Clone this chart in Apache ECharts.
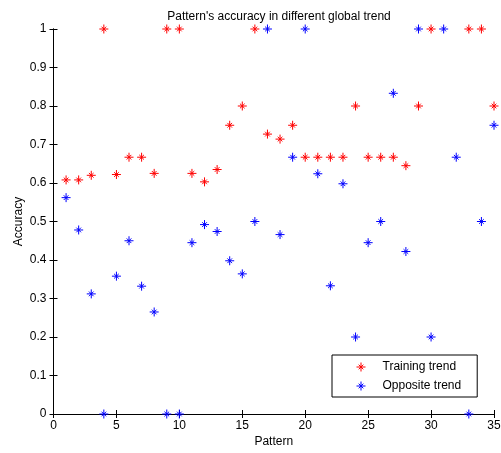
<!DOCTYPE html>
<html>
<head>
<meta charset="utf-8">
<script src="https://cdn.jsdelivr.net/npm/echarts@6/dist/echarts.min.js"></script>
<style>
  html,body{margin:0;padding:0;background:#fff;}
  #ch{width:501px;height:453px;}
</style>
</head>
<body>
<div id="ch"></div>
<script>
/* Pattern's accuracy — training trend vs opposite trend */
const PATTERNS = [...Array(35).keys()].map(i=>i+1);
// 31 and 32 are not visible in the picture (under the blue marks)
const TRAINING = [0.608,0.608,0.62,1,0.622,0.667,0.667,0.625,1,1,
                  0.625,0.603,0.635,0.75,0.8,1,0.727,0.714,0.75,0.667,
                  0.667,0.667,0.667,0.8,0.667,0.667,0.667,0.645,0.8,1,
                  null,null,1,1,0.8];
const OPPOSITE = [0.562,0.478,0.312,0,0.358,0.45,0.332,0.265,0,0,
                  0.445,0.492,0.474,0.398,0.364,0.5,1,0.466,0.667,1,
                  0.624,0.333,0.598,0.2,0.445,0.5,0.833,0.422,1,0.2,
                  1,0.667,0,0.5,0.75];

const FONT = "'Liberation Sans', Arial, sans-serif";
const STAR = "path://M0,-5L0,5M-5,0L5,0M-2.6,-2.6L2.6,2.6M-2.6,2.6L2.6,-2.6";
const RED = "#ff0000", BLUE = "#0000ff";
const pts = arr => PATTERNS.map((p,i)=>[p,arr[i]]).filter(d=>d[1]!==null);
const starStyle = c => ({color:"none",borderColor:c,borderWidth:1,opacity:1});

const chart = echarts.init(document.getElementById("ch"));
const tickIn = {show:true,inside:true,length:4,lineStyle:{color:"#000"}};
const line = {show:true,lineStyle:{color:"#000",width:1}};
const lbl = {color:"#000",fontFamily:FONT,fontSize:12};

chart.setOption({
  animation:false,
  textStyle:{fontFamily:FONT},
  title:{text:"Pattern's accuracy in different global trend",left:274,textAlign:"center",top:6,
    textStyle:{fontFamily:FONT,fontSize:12,fontWeight:"normal",color:"#000"}},
  grid:{left:53.5,right:7,top:29,bottom:39,outerBoundsMode:"none",containLabel:false},
  legend:{
    orient:"vertical",left:332,top:355,
    padding:[5,16,4,22],itemGap:5,itemWidth:9,itemHeight:9,
    borderColor:"#000",borderWidth:1,backgroundColor:"#fff",
    textStyle:{fontFamily:FONT,fontSize:12,color:"#000",padding:[0,0,0,12]},
    data:[
      {name:"Training trend",icon:STAR,itemStyle:starStyle(RED)},
      {name:"Opposite trend",icon:STAR,itemStyle:starStyle(BLUE)}
    ]
  },
  xAxis:[
    {type:"value",min:0,max:35,interval:5,name:"Pattern",nameLocation:"middle",nameGap:22,nameMoveOverlap:false,
     nameTextStyle:lbl,axisLine:line,axisTick:tickIn,axisLabel:Object.assign({margin:6},lbl),splitLine:{show:false}},
    {type:"value",position:"top",min:0,max:35,interval:5,axisLine:line,axisTick:tickIn,axisLabel:{show:false},splitLine:{show:false}}
  ],
  yAxis:[
    {type:"value",min:0,max:1,interval:0.1,name:"Accuracy",nameLocation:"middle",nameGap:29,nameMoveOverlap:false,
     nameTextStyle:lbl,axisLine:line,axisTick:tickIn,axisLabel:Object.assign({margin:7},lbl),splitLine:{show:false}},
    {type:"value",position:"right",min:0,max:1,interval:0.1,axisLine:line,axisTick:tickIn,axisLabel:{show:false},splitLine:{show:false}}
  ],
  series:[
    {name:"Training trend",type:"scatter",data:pts(TRAINING),symbol:STAR,symbolSize:9,clip:false,
     itemStyle:starStyle(RED)},
    {name:"Opposite trend",type:"scatter",data:pts(OPPOSITE),symbol:STAR,symbolSize:9,clip:false,
     itemStyle:starStyle(BLUE)}
  ]
});
</script>
</body>
</html>
